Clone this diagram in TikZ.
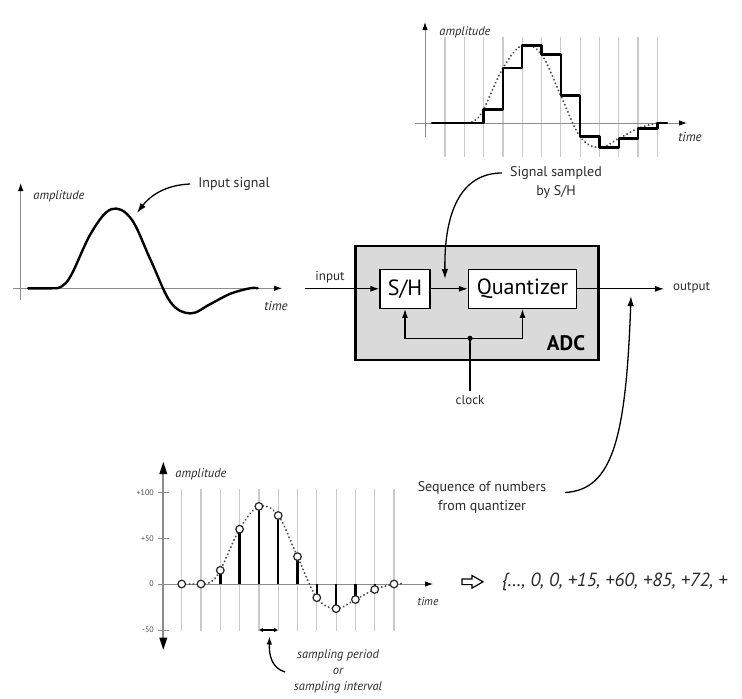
\documentclass[tikz,border=0pt]{standalone}
\usepackage{fontspec}
\setmainfont{PT Sans}
\usetikzlibrary{arrows.meta}
\definecolor{boxgray}{HTML}{DADADA}
\definecolor{gridgray}{HTML}{CACACA}
\definecolor{axisgray}{HTML}{8C8C8C}
\definecolor{txt}{HTML}{2A2A2A}
\begin{document}
\begin{tikzpicture}[x=1pt,y=-1pt,
  axisline/.style={draw=axisgray, line width=0.9pt, -{Latex[length=8pt,width=5.5pt,color=black]}},
  gridline/.style={draw=gridgray, line width=1.2pt},
  sigline/.style={line width=2.4pt, line cap=round, line join=round},
  dotline/.style={line width=2.1pt, dash pattern=on 0.1pt off 3.8pt, line cap=round, draw=black!70},
  axlab/.style={font=\fontsize{12.5}{14}\selectfont\itshape, text=txt, inner sep=0pt},
  timelab/.style={font=\fontsize{13}{15}\selectfont\itshape, text=txt, inner sep=0pt},
  ann/.style={font=\fontsize{14}{19}\selectfont, text=txt, align=center, inner sep=0pt},
  blk/.style={draw, fill=white, line width=1.2pt, inner sep=0pt, font=\fontsize{22}{24}\selectfont},
  conn/.style={line width=1.2pt, -{Latex[length=9pt,width=6pt]}},
  curv/.style={line width=1.3pt, -{Latex[length=10pt,width=6.5pt]}},
  ticklab/.style={font=\fontsize{8}{9}\selectfont, text=black!70, anchor=east, inner sep=0pt}]
\useasboundingbox (0,0) rectangle (742,699);

% ================= Top graph (signal sampled by S/H)
\begin{scope}[shift={(445,123)}, x=19.3pt, y=0.913pt]
  \foreach \k in {0,...,11} \draw[gridline] (\k,94) -- (\k,-37);
\end{scope}
\coordinate (tyb) at (425,137);
\coordinate (tyt) at (425,22);
\coordinate (txl) at (415,123);
\coordinate (txr) at (687,123);
\draw[axisline] (tyb) -- (tyt);
\draw[axisline] (txl) -- (txr);
\begin{scope}[shift={(445,123)}, x=19.3pt, y=0.913pt]
  \draw[dotline] plot[smooth, tension=0.6] coordinates {(1,0) (1.5,2) (2,15) (3,60) (4,85) (5,75) (6,30) (7,-15) (8,-27) (9,-17) (10,-6) (11,0) (11.3,0)};
  \draw[sigline] (-0.67,0) -- (2,0) -- (2,15) -- (3,15) -- (3,60) -- (4,60) -- (4,85) -- (5,85) -- (5,75) -- (6,75) -- (6,30) -- (7,30) -- (7,-15) -- (8,-15) -- (8,-27) -- (9,-27) -- (9,-17) -- (10,-17) -- (10,-6) -- (11,-6) -- (11,0) -- (11.5,0);
\end{scope}
\node[axlab] (tamp) at (465,32) {amplitude};
\node[timelab] (ttime) at (690,137) {time};

% ================= Input signal graph
\coordinate (iyb) at (20.7,300);
\coordinate (iyt) at (20.7,183);
\coordinate (ixl) at (13,288.3);
\coordinate (ixr) at (282,288.3);
\draw[axisline] (iyb) -- (iyt);
\draw[axisline] (ixl) -- (ixr);
\begin{scope}[shift={(32,288.3)}, x=19.8pt, y=0.93pt]
  \draw[sigline] plot[smooth, tension=0.6] coordinates {(-0.2,0) (1,0) (1.5,2) (2,15) (3,60) (4,85) (5,75) (6,30) (7,-15) (8,-27) (9,-17) (10,-6) (11,0) (11.4,0)};
  \coordinate (peak) at (5.3,81);
\end{scope}
\node[axlab] (iamp) at (59,196) {amplitude};
\node[timelab] (itime) at (276,305.6) {time};
\node[ann] (insig) at (234,184) {Input signal};
\coordinate (insa) at (190,184);
\draw[curv] (insa) .. controls (165,185) and (150,196) .. (peak);

% ================= ADC block
\node[draw, fill=boxgray, line width=2.6pt, minimum width=243pt, minimum height=114pt] (adc) at (476.7,303) {};
\node[blk, minimum width=50pt, minimum height=39pt] (sh) at (405,288.8) {S/H};
\node[blk, minimum width=108pt, minimum height=39pt] (qz) at (522.5,288.8) {Quantizer};
\node[font=\fontsize{21}{23}\selectfont\bfseries, inner sep=0pt] (adclab) at (566,343.3) {ADC};
\coordinate (inp) at (305,288.8);
\coordinate (outp) at (664,288.8);
\draw[conn] (inp) -- (sh.west);
\draw[conn] (sh.east) -- (qz.west);
\draw[conn] (qz.east) -- (outp);
\node[font=\fontsize{13}{15}\selectfont, text=txt, inner sep=0pt] (inlab) at (330,277) {input};
\node[font=\fontsize{13}{15}\selectfont, text=txt, inner sep=0pt, anchor=west] (outlab) at (673,288) {output};
\coordinate (clk) at (470,338.3);
\node[font=\fontsize{13}{15}\selectfont, text=txt, inner sep=0pt] (clklab) at (470,400) {clock};
\draw[line width=1.2pt] (clklab.north) ++(0,-4) coordinate (clkin) -- (clk);
\draw[conn] (clk) -| (sh.south);
\draw[conn] (clk) -| (qz.south);
\fill (clk) circle[radius=2.6pt];

% annotation: signal sampled by S/H
\node[ann] (ss) at (556,182.5) {Signal sampled\\by S/H};
\coordinate (ssa) at (502,173);
\coordinate (ssb) at (445,279);
\draw[curv] (ssa) .. controls (465,173) and (444,205) .. (ssb);

% annotation: sequence of numbers
\node[ann] (seq) at (482,497.5) {Sequence of numbers\\from quantizer};
\coordinate (seqa) at (565,492.5);
\coordinate (seqb) at (631,296);
\draw[curv] (seqa) .. controls (612,490) and (626,440) .. (seqb);

% ================= Bottom graph (sampled values)
\begin{scope}[shift={(181.7,584)}, x=19.3pt, y=0.913pt]
  \foreach \k in {0,...,11} \draw[gridline] (\k,104) -- (\k,-52);
\end{scope}
\coordinate (byb) at (163.3,646.7);
\coordinate (byt) at (163.3,465);
\coordinate (bym) at (163.3,560);
\coordinate (bxl) at (163.3,584);
\coordinate (bxr) at (433,584);
\draw[axisgray, line width=2pt] (bym) -- (byt);
\draw[axisgray, line width=2pt] (bym) -- (byb);
\fill (163.3,462) -- (159.3,474) -- (167.3,474) -- cycle;
\fill (163.3,649.7) -- (159.3,637.7) -- (167.3,637.7) -- cycle;
\draw[axisline] (bxl) -- (bxr);
\foreach \y/\t in {492.7/+100, 538.3/+50, 584/0, 630/-50} {
  \draw[axisgray, line width=0.9pt] (158,\y) -- (169,\y);
  \node[ticklab] at (154,\y) {\t};
}
\begin{scope}[shift={(181.7,584)}, x=19.3pt, y=0.913pt]
  \draw[dotline] plot[smooth, tension=0.6] coordinates {(0,0) (1,0) (1.5,2) (2,15) (3,60) (4,85) (5,75) (6,30) (7,-15) (8,-27) (9,-17) (10,-6) (11,0) (11.5,0)};
  \foreach \k/\v in {2/15,3/60,4/85,5/75,6/30,7/-15,8/-27,9/-17,10/-6}
    \draw[line width=2.4pt] (\k,0) -- (\k,\v);
  \foreach \k/\v in {0/0,1/0,2/15,3/60,4/85,5/75,6/30,7/-15,8/-27,9/-17,10/-6,11/0}
    \filldraw[fill=white, draw=black!85, line width=1.2pt] (\k,\v) circle[radius=3.8pt];
  \coordinate (spl) at (4,-50.4);
  \coordinate (spr) at (5,-50.4);
  \coordinate (sptip) at (4.55,-57.5);
\end{scope}
\draw[line width=1.5pt, {Latex[length=4pt,width=4.5pt]}-{Latex[length=4pt,width=4.5pt]}] (spl) -- (spr);
\node[axlab] (bamp) at (201,474) {amplitude};
\node[font=\fontsize{11.5}{13}\selectfont\itshape, text=txt, inner sep=0pt] (btime) at (428,601.5) {time};
\node[font=\fontsize{12.5}{15.7}\selectfont\itshape, text=txt, align=center, inner sep=0pt] (spt) at (338,671.5) {sampling period\\or\\sampling interval};
\coordinate (spa) at (285,672);
\draw[line width=1.3pt, -{Latex[length=8pt,width=5.5pt]}] (spa) .. controls (272,668) and (269,656) .. (sptip);

% ================= Sequence output
\draw[line width=1.2pt, line join=miter] (462,579) -- (472,579) -- (472,575.5) -- (483,581.8) -- (472,588.1) -- (472,584.6) -- (462,584.6) -- cycle;
\node[font=\fontsize{19}{21}\selectfont\itshape, text=txt, anchor=west, inner sep=0pt] (seqtxt) at (501.5,582) {\{…, 0, 0, +15, +60, +85, +72, +};
\end{tikzpicture}
\end{document}
